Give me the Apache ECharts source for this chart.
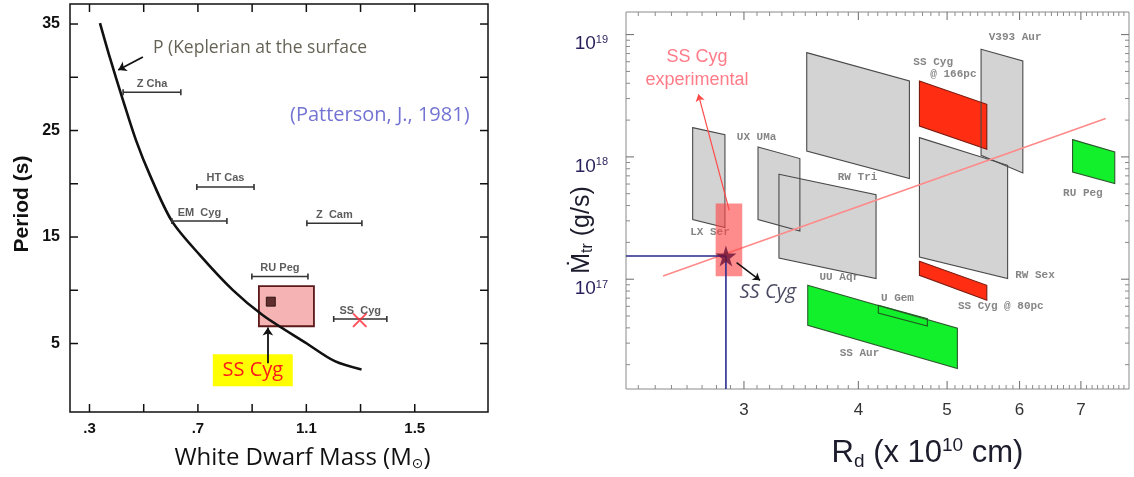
<!DOCTYPE html>
<html><head><meta charset="utf-8">
<script src="https://cdn.jsdelivr.net/npm/echarts@6/dist/echarts.min.js"></script>
<style>html,body{margin:0;padding:0;background:#fff}#c{width:1134px;height:477px}</style>
</head><body><div id="c"></div>
<script>
// ================= LEFT PANEL (Patterson 1981) =================
const massTicks    = [0.3, 0.5, 0.7, 0.9, 1.1, 1.3, 1.5];
const massLabels   = [0.3, 0.7, 1.1, 1.5];
const periodTicks  = [5, 10, 15, 20, 25, 30, 35];
const periodLabels = [5, 15, 25, 35];

// Keplerian period at the white dwarf surface
const curveMass   = [0.3387, 0.3756, 0.4235, 0.4714, 0.5230, 0.6041, 0.7074, 0.8290, 0.9396, 1.1018, 1.2051, 1.3035];
const curvePeriod = [35.09, 31.81, 27.86, 24.10, 20.81, 16.49, 13.30, 10.01, 7.66, 5.00, 3.34, 2.56];

// Horizontal mass ranges of individual systems
const sysNames  = ['Z Cha', 'HT Cas', 'EM  Cyg', 'Z  Cam', 'RU Peg', 'SS  Cyg'];
const sysMassLo = [0.424, 0.696, 0.604, 1.102, 0.899, 1.201];
const sysMassHi = [0.637, 0.907, 0.807, 1.305, 1.106, 1.397];
const sysPeriod = [28.6, 19.7, 16.5, 16.3, 11.3, 7.3];

// SS Cyg experimental box & markers
const ssBoxMass   = [0.925, 1.128];
const ssBoxPeriod = [6.62, 10.38];
const ssSquare    = [0.969, 8.93];
const ssCross     = [1.297, 7.19];
const ssTagMass   = [0.755, 1.050];
const ssTagPeriod = [0.99, 3.99];
const ssArrow     = [[0.958, 3.15], [0.958, 6.5]];
const keplerArrow = [[0.497, 31.9], [0.406, 30.68]];
const keplerText  = [0.534, 32.75];
const pattersonText = [1.371, 26.45];

// ================= RIGHT PANEL =================
const rdMinorTicks = [2.3,2.4,2.5,2.6,2.7,2.8,2.9,3.1,3.2,3.3,3.4,3.5,3.6,3.7,3.8,3.9,4.1,4.2,4.3,4.4,4.5,4.6,4.7,4.8,4.9,5.1,5.2,5.3,5.4,5.5,5.6,5.7,5.8,5.9,6.1,6.2,6.3,6.4,6.5,6.6,6.7,6.8,6.9,7.1,7.2,7.3,7.4,7.5,7.6,7.7,7.8];
const rdMajorTicks = [3, 4, 5, 6, 7];
const mdotMinorTicks = [2e16,3e16,4e16,5e16,6e16,7e16,8e16,9e16,2e17,3e17,4e17,5e17,6e17,7e17,8e17,9e17,2e18,3e18,4e18,5e18,6e18,7e18,8e18,9e18];
const mdotMajorTicks = [1e17, 1e18, 1e19];

// Regions (parallelograms): corner R_d (1e10 cm) and Mdot (g/s)
const regionNames = ['LX Ser','UX UMa','UU Aqr','RW Tri','RW Sex','V393 Aur','SS Cyg @166pc','SS Cyg @80pc','SS Aur','RU Peg','U Gem'];
const regionR = [
  [2.637, 2.860, 2.860, 2.637],
  [3.108, 3.453, 3.453, 3.108],
  [3.276, 4.182, 4.182, 3.276],
  [3.513, 4.548, 4.548, 3.513],
  [4.664, 5.822, 5.822, 4.664],
  [5.446, 6.049, 6.049, 5.446],
  [4.664, 5.525, 5.525, 4.664],
  [4.664, 5.525, 5.525, 4.664],
  [3.522, 5.131, 5.131, 3.522],
  [6.855, 7.622, 7.622, 6.855],
  [4.206, 4.758, 4.758, 4.206]
];
const regionM = [
  [1.736e18, 1.522e18, 2.642e17, 3.071e17],
  [1.205e18, 9.69e17, 2.479e17, 3.071e17],
  [7.207e17, 4.917e17, 1.011e17, 1.490e17],
  [7.126e18, 4.175e18, 6.647e17, 1.117e18],
  [1.438e18, 8.54e17, 1.011e17, 1.519e17],
  [7.585e18, 6.083e18, 7.387e17, 1.031e18],
  [4.175e18, 2.692e18, 1.154e18, 1.789e18],
  [1.401e17, 8.916e16, 6.723e16, 1.076e17],
  [8.916e16, 3.968e16, 1.858e16, 4.198e16],
  [1.385e18, 1.097e18, 6.049e17, 7.526e17],
  [6.118e16, 4.762e16, 4.143e16, 5.29e16]
];
const regionLabels = [
  ['LX Ser', 2.754, 2.432e17], ['UX UMa', 3.097, 1.46e18], ['RW Tri', 3.992, 6.85e17],
  ['UU Aqr', 3.813, 1.03e17], ['SS Cyg', 4.828, 5.97e18], ['@ 166pc', 5.080, 4.71e18],
  ['V393 Aur', 5.933, 9.56e18], ['RW Sex', 6.236, 1.076e17], ['SS Cyg @ 80pc', 5.723, 6.0e16],
  ['U Gem', 4.413, 7.02e16], ['SS Aur', 4.011, 2.478e16], ['RU Peg', 7.035, 5.01e17]
];
const fitLine   = [[2.448, 1.062e17], [7.450, 2.057e18]];
const expBoxR   = [2.794, 2.987];
const expBoxM   = [1.056e17, 4.152e17];
const ssCygStar = [2.867, 1.548e17];
const expArrow  = [[2.891, 3.66e17], [2.675, 3.25e18]];
const starArrow = [[2.945, 1.367e17], [3.124, 9.79e16]];
const expText   = [2.666, 5.254e18];
const starText  = [3.186, 7.86e16];

const R_MIN = 2.23, R_MAX = 7.9, M_MIN = 1.265e16, M_MAX = 1.531e19;
const MASS_MIN = 0.2281, MASS_MAX = 1.7702, P_MIN = -1.43, P_MAX = 36.88;

// ================= STYLES =================
const regionStyle = {
  'SS Cyg @166pc': {fill: '#ff2d12', stroke: '#7a1a10'},
  'SS Cyg @80pc':  {fill: '#ff2d12', stroke: '#7a1a10'},
  'SS Aur':        {fill: '#12f02c', stroke: '#2b5a2b'},
  'RU Peg':        {fill: '#12f02c', stroke: '#2b5a2b'},
  'U Gem':         {fill: 'none',    stroke: '#1f5a1f'}
};
const grayStyle = {fill: '#d3d3d3', stroke: '#4a4a4a'};
const comic = "'Open Sans', 'DejaVu Sans', sans-serif";
const arial = "'Liberation Sans', Arial, 'DejaVu Sans', sans-serif";
const mono  = "'Liberation Mono', 'DejaVu Sans Mono', monospace";

const chart = echarts.init(document.getElementById('c'), null, {renderer: 'canvas'});

const L = {xAxisIndex: 0, yAxisIndex: 0};
const R = {xAxisIndex: 1, yAxisIndex: 1};

// Frame ticks (inside, on all four sides) placed through the axis scales
function xTicks(ax, values, yMin, yMax, len, color, width) {
  return Object.assign({type: 'custom', silent: true, z: 20,
    data: values.map(v => [v, yMin]),
    renderItem: (params, api) => {
      const lo = api.coord([api.value(0), yMin]), hi = api.coord([api.value(0), yMax]);
      const st = {stroke: color, lineWidth: width};
      return {type: 'group', children: [
        {type: 'line', shape: {x1: lo[0], y1: lo[1], x2: lo[0], y2: lo[1] - len}, style: st},
        {type: 'line', shape: {x1: hi[0], y1: hi[1], x2: hi[0], y2: hi[1] + len}, style: st}]};
    }}, ax);
}
function yTicks(ax, values, xMin, xMax, len, color, width) {
  return Object.assign({type: 'custom', silent: true, z: 20,
    data: values.map(v => [xMin, v]),
    renderItem: (params, api) => {
      const lo = api.coord([xMin, api.value(1)]), hi = api.coord([xMax, api.value(1)]);
      const st = {stroke: color, lineWidth: width};
      return {type: 'group', children: [
        {type: 'line', shape: {x1: lo[0], y1: lo[1], x2: lo[0] + len, y2: lo[1]}, style: st},
        {type: 'line', shape: {x1: hi[0], y1: hi[1], x2: hi[0] - len, y2: hi[1]}, style: st}]};
    }}, ax);
}

const baseAxis = {axisLine: {show: false, onZero: false}, axisTick: {show: false}, splitLine: {show: false}, minorTick: {show: false}, nameMoveOverlap: false};

const option = {
  backgroundColor: '#fff',
  animation: false,
  grid: [
    {left: 70, top: 4, width: 418, height: 408, outerBoundsMode: 'none', containLabel: false, show: true, borderColor: '#111', borderWidth: 1.5, backgroundColor: 'transparent'},
    {left: 626, top: 12, width: 503, height: 377, outerBoundsMode: 'none', containLabel: false, show: true, borderColor: '#8a8a8a', borderWidth: 1, backgroundColor: 'transparent'}
  ],
  xAxis: [
    Object.assign({}, baseAxis, {gridIndex: 0, type: 'value', position: 'bottom', min: MASS_MIN, max: MASS_MAX,
      axisLabel: {customValues: massLabels, margin: 9, color: '#111', fontSize: 15, fontWeight: 'bold', fontFamily: arial,
        formatter: v => v.toFixed(1).replace(/^0/, '')},
      name: 'White Dwarf Mass (M{sub|⊙})', nameLocation: 'middle', nameGap: 34,
      nameTextStyle: {fontSize: 24, color: '#111', fontFamily: comic, padding: [0, 0, 0, 47],
        rich: {sub: {fontSize: 14, verticalAlign: 'bottom', padding: [11, 0, 0, 0], fontFamily: "'DejaVu Sans'", color: '#111'}}}}),
    Object.assign({}, baseAxis, {gridIndex: 1, type: 'log', position: 'bottom', min: R_MIN, max: R_MAX,
      axisLabel: {customValues: rdMajorTicks, margin: 13, color: '#333', fontSize: 17, fontFamily: arial, formatter: v => String(Math.round(v))},
      name: 'R{sub|d} (x 10{sup|10} cm)', nameLocation: 'middle', nameGap: 47,
      nameTextStyle: {fontSize: 31, color: '#1c1c2c', fontFamily: arial, padding: [0, 0, 0, 100],
        rich: {sub: {fontSize: 19, verticalAlign: 'bottom', padding: [16, 0, 0, 0], fontFamily: arial, color: '#1c1c2c'},
               sup: {fontSize: 19, verticalAlign: 'top', padding: [0, 0, 13, 0], fontFamily: arial, color: '#1c1c2c'}}}})
  ],
  yAxis: [
    Object.assign({}, baseAxis, {gridIndex: 0, type: 'value', position: 'left', min: P_MIN, max: P_MAX,
      axisLabel: {customValues: periodLabels, margin: 10, color: '#111', fontSize: 16, fontWeight: 'bold', fontFamily: arial},
      name: 'Period (s)', nameLocation: 'middle', nameGap: 37,
      nameTextStyle: {fontSize: 21, fontWeight: 'bold', color: '#111', fontFamily: arial, padding: [0, 0, 0, 8]}}),
    Object.assign({}, baseAxis, {gridIndex: 1, type: 'log', position: 'left', min: M_MIN, max: M_MAX,
      axisLabel: {customValues: mdotMajorTicks, margin: 18, color: '#2a1f5c', fontSize: 19, fontFamily: arial, verticalAlign: 'top',
        formatter: v => '10{s|' + Math.round(Math.log10(v)) + '}',
        rich: {s: {fontSize: 11, verticalAlign: 'top', padding: [0, 0, 8, 0], color: '#2a1f5c', fontFamily: arial}}},
      name: 'Ṁ{sub|tr} (g/s)', nameLocation: 'middle', nameGap: 30,
      nameTextStyle: {fontSize: 25, color: '#1c1c2c', fontFamily: arial, padding: [0, 59, 0, 0],
        rich: {sub: {fontSize: 16, verticalAlign: 'bottom', padding: [12, 0, 0, 0], color: '#1c1c2c', fontFamily: arial}}}})
  ],
  series: [
    // ---------- frame ticks ----------
    xTicks(L, massTicks, P_MIN, P_MAX, 8, '#111', 1.5),
    yTicks(L, periodTicks, MASS_MIN, MASS_MAX, 8, '#111', 1.5),
    xTicks(R, rdMinorTicks, M_MIN, M_MAX, 4, '#8a8a8a', 1),
    xTicks(R, rdMajorTicks, M_MIN, M_MAX, 8, '#6a6a6a', 1),
    yTicks(R, mdotMinorTicks, R_MIN, R_MAX, 4, '#8a8a8a', 1),
    yTicks(R, mdotMajorTicks, R_MIN, R_MAX, 8, '#6a6a6a', 1),

    // ---------- LEFT ----------
    Object.assign({type: 'custom', name: 'ssbox', z: 2,
      data: [[ssBoxMass[0], ssBoxPeriod[0]]],
      renderItem: (p, api) => {
        const a = api.coord([ssBoxMass[0], ssBoxPeriod[1]]), b = api.coord([ssBoxMass[1], ssBoxPeriod[0]]);
        return {type: 'rect', shape: {x: a[0], y: a[1], width: b[0] - a[0], height: b[1] - a[1]},
          style: {fill: '#f5b3b3', stroke: '#5a1818', lineWidth: 1.8}};
      }}, L),
    Object.assign({type: 'line', name: 'curve', z: 3, data: curveMass.map((m, i) => [m, curvePeriod[i]]),
      smooth: 0.3, showSymbol: false, lineStyle: {color: '#111', width: 2.6}}, L),
    Object.assign({type: 'custom', name: 'bars', z: 4,
      data: sysNames.map((n, i) => [sysMassLo[i], sysPeriod[i], sysMassHi[i]]),
      renderItem: (p, api) => {
        const a = api.coord([api.value(0), api.value(1)]), b = api.coord([api.value(2), api.value(1)]);
        const st = {stroke: '#333', lineWidth: 1.6};
        return {type: 'group', children: [
          {type: 'line', shape: {x1: a[0], y1: a[1], x2: b[0], y2: b[1]}, style: st},
          {type: 'line', shape: {x1: a[0], y1: a[1] - 3, x2: a[0], y2: a[1] + 3}, style: st},
          {type: 'line', shape: {x1: b[0], y1: b[1] - 3, x2: b[0], y2: b[1] + 3}, style: st}]};
      }}, L),
    Object.assign({type: 'scatter', name: 'barLabels', z: 5, symbolSize: 0, silent: true,
      data: sysNames.map((n, i) => ({value: [(sysMassLo[i] + sysMassHi[i]) / 2, sysPeriod[i]], name: n})),
      label: {show: true, position: 'top', distance: 3, formatter: d => d.name, fontSize: 11, fontWeight: 'bold', color: '#333', fontFamily: arial}}, L),
    Object.assign({type: 'scatter', name: 'square', z: 6, symbol: 'rect', symbolSize: 9, data: [ssSquare],
      itemStyle: {color: '#3c0c0c', borderColor: '#1a0505', borderWidth: 1}}, L),
    Object.assign({type: 'scatter', name: 'cross', z: 7, symbolSize: 14, data: [ssCross],
      symbol: 'path://M0,0 L2,0 L10,8 L18,0 L20,0 L20,2 L12,10 L20,18 L20,20 L18,20 L10,12 L2,20 L0,20 L0,18 L8,10 L0,2 Z',
      itemStyle: {color: '#ff2a3a'}}, L),
    Object.assign({type: 'custom', name: 'tag', z: 6,
      data: [[ssTagMass[0], ssTagPeriod[0]]],
      renderItem: (p, api) => {
        const a = api.coord([ssTagMass[0], ssTagPeriod[1]]), b = api.coord([ssTagMass[1], ssTagPeriod[0]]);
        return {type: 'rect', shape: {x: a[0], y: a[1], width: b[0] - a[0], height: b[1] - a[1]},
          style: {fill: '#ffff00'},
          textContent: {style: {text: 'SS Cyg', fill: '#ff1a1a', fontSize: 20, fontFamily: comic}},
          textConfig: {position: 'inside'}};
      }}, L),
    Object.assign({type: 'lines', name: 'arrowsL', coordinateSystem: 'cartesian2d', z: 8,
      symbol: ['none', 'arrow'], symbolSize: 8,
      data: [{coords: ssArrow}, {coords: keplerArrow}],
      lineStyle: {color: '#111', width: 1.8, opacity: 1}}, L),
    Object.assign({type: 'scatter', name: 'textsL', z: 9, symbolSize: 0, silent: true,
      data: [
        {value: keplerText, label: {show: true, position: 'right', distance: 0, formatter: 'P (Keplerian at the surface', fontSize: 17.5, color: '#3d392a', fontFamily: comic}},
        {value: pattersonText, label: {show: true, position: 'inside', formatter: '(Patterson, J., 1981)', fontSize: 20, color: '#5050c8', fontFamily: comic}}
      ]}, L),

    // ---------- RIGHT ----------
    Object.assign({type: 'custom', name: 'regionFill', z: 2, clip: true,
      data: regionNames.map((n, i) => [regionR[i][0], regionM[i][0], i]),
      renderItem: (p, api) => {
        const i = api.value(2); const n = regionNames[i];
        const st = regionStyle[n] || grayStyle;
        const pts = regionR[i].map((r, k) => api.coord([r, regionM[i][k]]));
        return {type: 'polygon', shape: {points: pts}, style: {fill: st.fill, stroke: null}};
      }}, R),
    Object.assign({type: 'custom', name: 'regionEdge', z: 3, clip: true,
      data: regionNames.map((n, i) => [regionR[i][0], regionM[i][0], i]),
      renderItem: (p, api) => {
        const i = api.value(2); const n = regionNames[i];
        const st = regionStyle[n] || grayStyle;
        const pts = regionR[i].map((r, k) => api.coord([r, regionM[i][k]]));
        return {type: 'polygon', shape: {points: pts}, style: {fill: 'none', stroke: st.stroke, lineWidth: 1.1}};
      }}, R),
    Object.assign({type: 'scatter', name: 'regionLabels', z: 4, symbolSize: 0, silent: true,
      data: regionLabels.map(d => ({value: [d[1], d[2]], name: d[0]})),
      label: {show: true, position: 'inside', formatter: d => d.name, fontSize: 11, fontWeight: 'bold', color: '#666', fontFamily: mono}}, R),
    Object.assign({type: 'line', name: 'fit', z: 5, data: fitLine, showSymbol: false,
      lineStyle: {color: '#ff8a8a', width: 1.6}}, R),
    Object.assign({type: 'custom', name: 'expBox', z: 6,
      data: [[expBoxR[0], expBoxM[0]]],
      renderItem: (p, api) => {
        const a = api.coord([expBoxR[0], expBoxM[1]]), b = api.coord([expBoxR[1], expBoxM[0]]);
        return {type: 'rect', shape: {x: a[0], y: a[1], width: b[0] - a[0], height: b[1] - a[1]},
          style: {fill: 'rgba(255,70,70,0.62)'}};
      }}, R),
    Object.assign({type: 'line', name: 'guide', z: 7, showSymbol: false,
      data: [[R_MIN, ssCygStar[1]], ssCygStar, [ssCygStar[0], M_MIN]],
      lineStyle: {color: '#2a2a8c', width: 1.6}}, R),
    Object.assign({type: 'scatter', name: 'star', z: 8, symbolSize: 21, data: [ssCygStar],
      symbol: 'path://M50,0 L61,35 L98,35 L68,57 L79,91 L50,70 L21,91 L32,57 L2,35 L39,35 Z',
      itemStyle: {color: '#6a1236'}}, R),
    Object.assign({type: 'lines', name: 'arrowsR', coordinateSystem: 'cartesian2d', z: 9,
      symbol: ['none', 'arrow'], symbolSize: 7,
      data: [
        {coords: expArrow, lineStyle: {color: '#ff4a4a', width: 1.2}},
        {coords: starArrow, lineStyle: {color: '#111', width: 1.5}}
      ], lineStyle: {opacity: 1}}, R),
    Object.assign({type: 'scatter', name: 'textsR', z: 10, symbolSize: 0, silent: true,
      data: [
        {value: expText, label: {show: true, position: 'inside', formatter: 'SS Cyg\nexperimental', lineHeight: 23, fontSize: 18, color: '#ff5a6a', fontFamily: arial}},
        {value: starText, label: {show: true, position: 'inside', formatter: 'SS Cyg', fontSize: 20, fontStyle: 'italic', color: '#1a1a3a', fontFamily: comic}}
      ]}, R)
  ]
};
chart.setOption(option);
</script>
</body></html>
